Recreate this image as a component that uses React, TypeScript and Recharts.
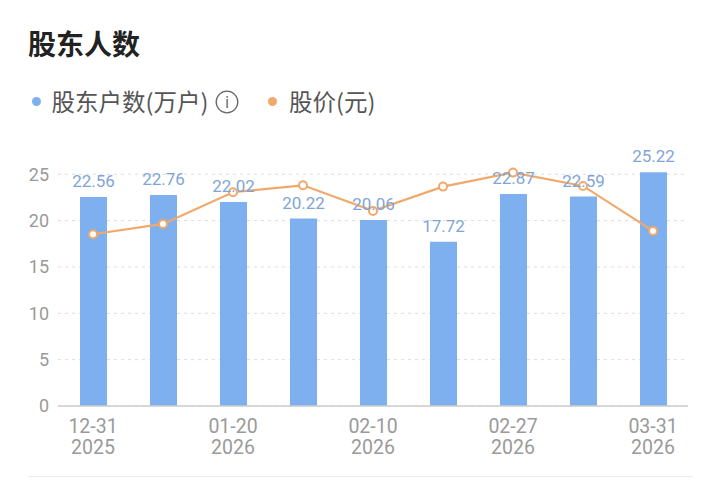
import React from "react";
import {
  ComposedChart,
  Bar,
  Line,
  XAxis,
  YAxis,
  CartesianGrid,
  LabelList,
} from "recharts";

const dates = ["12-31", "01-10", "01-20", "01-31", "02-10", "02-20", "02-27", "03-10", "03-31"];
const years = ["2025", "2026", "2026", "2026", "2026", "2026", "2026", "2026", "2026"];
const holders = [22.56, 22.76, 22.02, 20.22, 20.06, 17.72, 22.87, 22.59, 25.22];
const prices = [18.53, 19.64, 23.06, 23.81, 21.05, 23.67, 25.18, 23.74, 18.89];
const yTicks = [0, 5, 10, 15, 20, 25];

const data = dates.map((d, i) => ({
  key: d + "|" + years[i],
  date: d,
  year: years[i],
  holders: holders[i],
  price: prices[i],
}));

const BAR = "#7eb0f0";
const LINE = "#f0a96b";
const FONT = "Roboto, 'Noto Sans CJK SC', sans-serif";

const XTick = (props: any) => {
  const { x, y, payload } = props;
  const [d, yr] = String(payload.value).split("|");
  return (
    <g>
      <text x={x} y={y + 25} textAnchor="middle" fill="#9a9a9a" fontSize={19.5} fontFamily={FONT}>
        {d}
      </text>
      <text x={x} y={y + 46} textAnchor="middle" fill="#9a9a9a" fontSize={19.5} fontFamily={FONT}>
        {yr}
      </text>
    </g>
  );
};

export default function App() {
  return (
    <div style={{ position: "absolute", left: 0, top: 0, width: 720, height: 497, background: "#fff", fontFamily: FONT }}>
      <div
        style={{
          position: "absolute",
          left: 28,
          top: 29,
          fontSize: 28,
          lineHeight: "28px",
          fontWeight: 700,
          color: "#222",
          fontFamily: "'Noto Sans CJK SC', sans-serif",
        }}
      >
        股东人数
      </div>
      <div
        style={{
          position: "absolute",
          left: 0,
          top: 89,
          height: 24,
          fontSize: 23.5,
          lineHeight: "24px",
          color: "#555",
          fontFamily: "'Noto Sans CJK SC', sans-serif",
          whiteSpace: "nowrap",
        }}
      >
        <span style={{ position: "absolute", left: 31.5, top: 7.5, width: 9, height: 9, borderRadius: 5, background: BAR }} />
        <span style={{ position: "absolute", left: 51.5 }}>股东户数(万户)</span>
        <svg style={{ position: "absolute", left: 214.5, top: 0.5 }} width={24} height={24} viewBox="0 0 24 24">
          <circle cx={12} cy={12} r={10.8} fill="none" stroke="#666" strokeWidth={1.3} />
          <text x={12} y={17.5} textAnchor="middle" fontSize={15} fill="#666" fontFamily="'DejaVu Sans', sans-serif">i</text>
        </svg>
        <span style={{ position: "absolute", left: 268, top: 7.5, width: 9, height: 9, borderRadius: 5, background: LINE }} />
        <span style={{ position: "absolute", left: 289 }}>股价(元)</span>
      </div>
      <div style={{ position: "absolute", left: 0, top: 0 }}>
        <ComposedChart width={720} height={497} data={data} margin={{ top: 165, right: 32, left: 0, bottom: 0 }}>
          <CartesianGrid
            yAxisId="left"
            vertical={false}
            horizontalValues={yTicks}
            stroke="#dddddd"
            strokeDasharray="3 4"
          />
          <XAxis
            dataKey="key"
            height={91}
            interval={1}
            tick={<XTick />}
            tickLine={false}
            tickSize={0}
            axisLine={{ stroke: "#cccccc", strokeWidth: 1.5 }}
          />
          <YAxis
            yAxisId="left"
            width={58}
            domain={[0, 26]}
            ticks={yTicks}
            axisLine={false}
            tickLine={false}
            tickSize={0}
            tickMargin={9}
            tick={{ fill: "#9a9a9a", fontSize: 18, fontFamily: FONT }}
          />
          <YAxis yAxisId="right" orientation="right" hide domain={[0, 26]} />
          <Bar yAxisId="left" dataKey="holders" fill={BAR} barSize={27} isAnimationActive={false}>
            <LabelList dataKey="holders" position="top" offset={10} fill="#7fa5d8" fontSize={17} fontFamily={FONT} />
          </Bar>
          <Line
            yAxisId="right"
            dataKey="price"
            stroke={LINE}
            strokeWidth={2.2}
            dot={{ r: 4, fill: "#fff", stroke: LINE, strokeWidth: 2 }}
            activeDot={false}
            isAnimationActive={false}
          />
        </ComposedChart>
      </div>
      <div style={{ position: "absolute", left: 28, top: 476, width: 665, height: 1, background: "#ececec" }} />
    </div>
  );
}
